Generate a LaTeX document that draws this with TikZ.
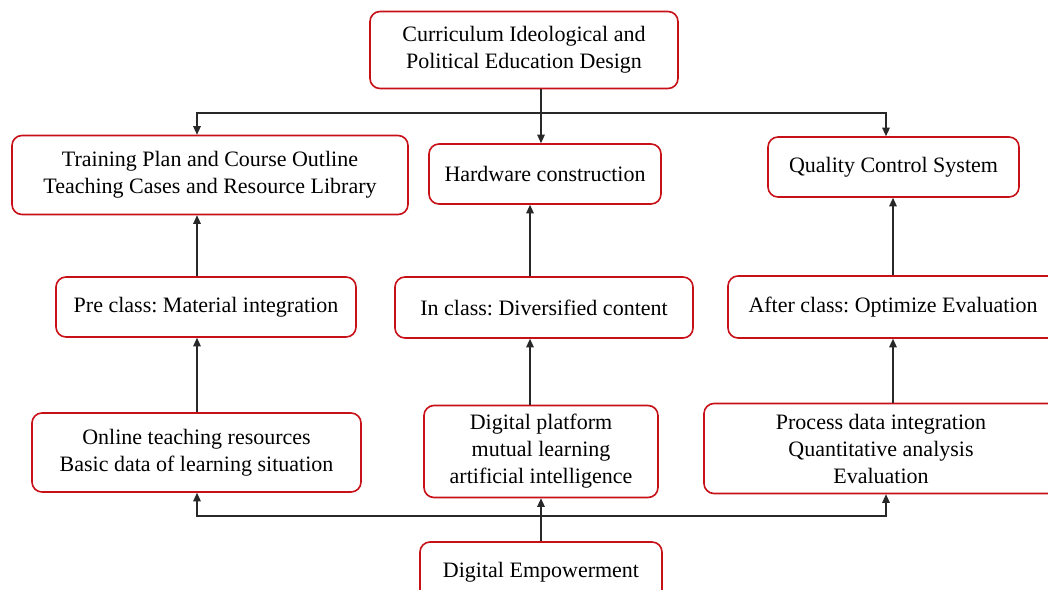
\documentclass[tikz,border=0pt]{standalone}
\usepackage{fontspec}
\setmainfont{Liberation Serif}
\usetikzlibrary{arrows.meta,calc}
\definecolor{boxred}{RGB}{200,16,24}
\definecolor{linegray}{RGB}{40,40,40}
\frenchspacing
\begin{document}
\begin{tikzpicture}[x=1pt,y=-1pt,
  box/.style={draw=boxred,line width=1.6pt,rounded corners=10pt,align=center,
    font=\fontsize{22}{27}\selectfont,inner sep=0pt,anchor=center},
  arr/.style={draw=linegray,line width=1.2pt,-{Triangle[length=8.5pt,width=7.5pt]}},
  ln/.style={draw=linegray,line width=1.2pt}]
\useasboundingbox (0,0) rectangle (1048,589);
\clip (0,0) rectangle (1048,589);
\fill[white] (0,0) rectangle (1048,589);
% nodes
\node[box,minimum width=308pt,minimum height=77pt] (top) at (524,50) {Curriculum Ideological and\\Political Education Design};
\node[box,minimum width=396pt,minimum height=79pt] (train) at (210,175) {Training Plan and Course Outline\\Teaching Cases and Resource Library};
\node[box,minimum width=232pt,minimum height=60pt] (hw) at (545,174) {Hardware construction};
\node[box,minimum width=251pt,minimum height=60pt] (qc) at (893.5,167) {Quality Control System};
\node[box,minimum width=300pt,minimum height=60pt] (pre) at (206,307) {Pre class: Material integration};
\node[box,minimum width=298pt,minimum height=61pt] (in) at (544,307.5) {In class: Diversified content};
\node[box,minimum width=330pt,minimum height=62pt] (after) at (893,307) {After class: Optimize Evaluation};
\node[box,minimum width=329pt,minimum height=79pt] (online) at (196.5,452.5) {Online teaching resources\\Basic data of learning situation};
\node[box,minimum width=234pt,minimum height=92pt] (dp) at (541,451.5) {Digital platform\\mutual learning\\artificial intelligence};
\node[box,minimum width=354pt,minimum height=90pt] (proc) at (881,448.5) {Process data integration\\Quantitative analysis\\Evaluation};
\node[box,minimum width=242pt,minimum height=60pt] (de) at (541,572) {Digital Empowerment};
% reference coordinates
\coordinate (cL) at (197,0);
\coordinate (cM) at (541,0);
\coordinate (cR) at (886,0);
\coordinate (cI) at (530,0);
\coordinate (cA) at (893,0);
\coordinate (jT) at (541,113);
\coordinate (jB) at (541,516);
% top distribution
\draw[arr] (top.south -| cM) -- (hw.north -| cM);
\draw[arr] (jT) -| (train.north -| cL);
\draw[arr] (jT) -| (qc.north -| cR);
% left column
\draw[arr] (pre.north -| cL) -- (train.south -| cL);
\draw[arr] (online.north -| cL) -- (pre.south -| cL);
% middle column
\draw[arr] (in.north -| cI) -- (hw.south -| cI);
\draw[arr] (dp.north -| cI) -- (in.south -| cI);
% right column
\draw[arr] (after.north -| cA) -- (qc.south -| cA);
\draw[arr] (proc.north -| cA) -- (after.south -| cA);
% bottom distribution
\draw[arr] (de.north -| cM) -- (dp.south -| cM);
\draw[arr] (jB) -| (online.south -| cL);
\draw[arr] (jB) -| (proc.south -| cR);
\end{tikzpicture}
\end{document}
